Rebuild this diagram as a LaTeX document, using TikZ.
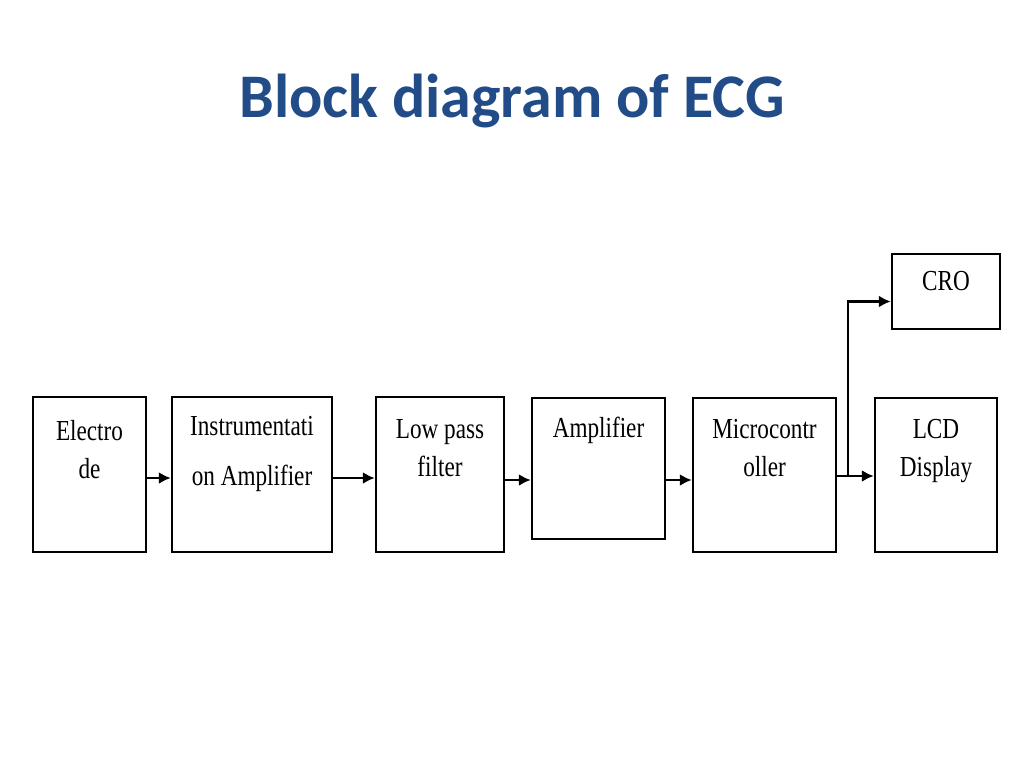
\documentclass[tikz,border=0pt]{standalone}
\usepackage{fontspec}
\setmainfont{Liberation Serif}[FakeStretch=0.8]
\newfontfamily\titlefont{Carlito}
\usepackage{tikz}
\usetikzlibrary{arrows.meta}
\usepackage{xcolor}
\definecolor{titleblue}{RGB}{33,76,135}

\begin{document}
\begin{tikzpicture}[x=1pt,y=-1pt,
                    blk/.style={draw,line width=2.4pt,inner sep=0pt},
                    lbl/.style={anchor=north,align=center,inner sep=0pt,
                                font=\fontsize{29}{38}\selectfont},
                    arr/.style={line width=2.4pt,-{Latex[length=12pt,width=12pt]}}]
                    \useasboundingbox (0,0) rectangle (1024,768);
                    \node[font=\titlefont\bfseries\fontsize{62}{70}\selectfont,text=titleblue] (title) at (512,101) {Block diagram of ECG};
                    % blocks
                    \node[blk,minimum width=113,minimum height=155,
                          label={[lbl,yshift=-24pt]north:Electro\\de}] (elec) at (89.5,474.5) {};
                    \node[blk,minimum width=160,minimum height=155,
                          label={[lbl,yshift=-20pt]north:Instrumentati\\[12pt]on Amplifier}] (inst) at (252,474.5) {};
                    \node[blk,minimum width=128,minimum height=155,
                          label={[lbl,yshift=-24pt]north:Low pass\\filter}] (lpf) at (440,474.5) {};
                    \node[blk,minimum width=133,minimum height=141,
                          label={[lbl,yshift=-20pt]north:Amplifier}] (amp) at (598.5,468.5) {};
                    \node[blk,minimum width=143,minimum height=154,
                          label={[lbl,yshift=-22pt]north:Microcontr\\oller}] (mcu) at (764.5,475) {};
                    \node[blk,minimum width=122,minimum height=154,
                          label={[lbl,yshift=-22pt]north:LCD\\Display}] (lcd) at (936,475) {};
                    \node[blk,minimum width=108,minimum height=75,
                          label={[lbl,yshift=-18pt]north:CRO}] (cro) at (946,291.5) {};
                    % signal path
                    \coordinate (sig) at (0,478);
                    \coordinate (split) at (848,476);
                    \draw[arr] (elec.east |- sig) -- (inst.west |- sig);
                    \draw[arr] (inst.east |- sig) -- (lpf.west |- sig);
                    \draw[arr] ([yshift=-2pt]lpf.east |- sig) -- ([yshift=-2pt]amp.west |- sig);
                    \draw[arr] ([yshift=-2pt]amp.east |- sig) -- ([yshift=-2pt]mcu.west |- sig);
                    \draw[arr] (mcu.east |- split) -- (lcd.west |- split);
                    \draw[arr] (split) |- ([yshift=-10pt]cro.west);
                \end{tikzpicture}
\end{document}
